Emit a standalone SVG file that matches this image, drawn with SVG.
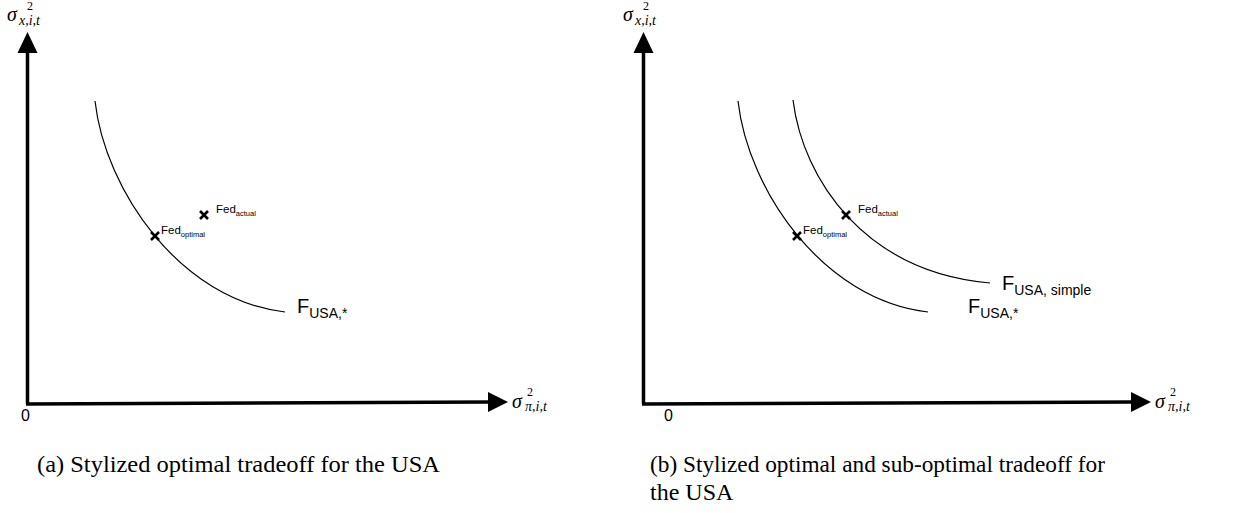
<svg xmlns="http://www.w3.org/2000/svg" width="1234" height="513" viewBox="0 0 1234 513">
<style>
.axis{stroke:#000;stroke-width:3.5;fill:none}
.curve{stroke:#000;stroke-width:1.2;fill:none}
.mark{stroke:#000;stroke-width:2.6}
.math{font-family:"Liberation Serif","DejaVu Serif",serif;font-style:italic;fill:#000}
.sup{font-family:"Liberation Serif","DejaVu Serif",serif;fill:#000;font-size:12px}
.sans{font-family:"Liberation Sans",Arial,sans-serif;fill:#000}
.cap{font-family:"Liberation Serif","DejaVu Serif",serif;font-size:24px;fill:#000}
</style>
<rect width="1234" height="513" fill="#fff"/>
<g id="connectors">
  <path class="axis" d="M27.5,404 L27.5,50"/>
  <polygon points="27.5,32 17.5,53 37.5,53" fill="#000"/>
  <path class="axis" d="M26,404 L490,402"/>
  <polygon points="508,402 488,392 488,412" fill="#000"/>
  <path class="axis" d="M643.5,404 L643.5,50"/>
  <polygon points="643.5,32 633.5,53 653.5,53" fill="#000"/>
  <path class="axis" d="M642,404 L1133,402"/>
  <polygon points="1151,402 1131,392 1131,412" fill="#000"/>
  <path class="curve" d="M95,101 C105,190 180,300 285,312"/>
  <path class="curve" d="M738,101 C748,190 823,300 928,312"/>
  <path class="curve" d="M793,100 C803,180 865,272 990,283"/>
</g>
<g id="left-labels">
  <text class="math" x="7" y="21" font-size="20">σ</text>
  <text class="sup" x="27" y="10">2</text>
  <text class="math" x="19" y="25" font-size="14">x,i,t</text>
  <text class="sans" x="21" y="421" font-size="16">0</text>
  <text class="math" x="512" y="408" font-size="20">σ</text>
  <text class="sup" x="527" y="396">2</text>
  <text class="math" x="525" y="411" font-size="14">π,i,t</text>
</g>
<g id="right-labels">
  <text class="math" x="623" y="21" font-size="20">σ</text>
  <text class="sup" x="643" y="10">2</text>
  <text class="math" x="635" y="25" font-size="14">x,i,t</text>
  <text class="sans" x="664" y="421" font-size="16">0</text>
  <text class="math" x="1155" y="408" font-size="20">σ</text>
  <text class="sup" x="1170" y="396">2</text>
  <text class="math" x="1168" y="411" font-size="14">π,i,t</text>
</g>
<g id="fed-optimal-a">
  <path class="mark" d="M151,232 L159,240 M159,232 L151,240"/>
  <text class="sans" x="161" y="234" font-size="11.5">Fed<tspan font-size="7.5" dy="3">optimal</tspan></text>
</g>
<g id="fed-actual-a">
  <path class="mark" d="M200,211 L208,219 M208,211 L200,219"/>
  <text class="sans" x="216" y="213" font-size="11.5">Fed<tspan font-size="7.5" dy="3">actual</tspan></text>
</g>
<g id="f-usa-a">
  <text class="sans" x="297" y="313" font-size="20">F<tspan font-size="14" dy="5">USA,*</tspan></text>
</g>
<g id="fed-optimal-b">
  <path class="mark" d="M793,232 L801,240 M801,232 L793,240"/>
  <text class="sans" x="803" y="234" font-size="11.5">Fed<tspan font-size="7.5" dy="3">optimal</tspan></text>
</g>
<g id="fed-actual-b">
  <path class="mark" d="M842,211 L850,219 M850,211 L842,219"/>
  <text class="sans" x="858" y="213" font-size="11.5">Fed<tspan font-size="7.5" dy="3">actual</tspan></text>
</g>
<g id="f-usa-simple">
  <text class="sans" x="1002" y="290" font-size="20">F<tspan font-size="14" dy="5">USA, simple</tspan></text>
</g>
<g id="f-usa-b">
  <text class="sans" x="968" y="313" font-size="20">F<tspan font-size="14" dy="5">USA,*</tspan></text>
</g>
<g id="captions">
  <text class="cap" x="37" y="472" textLength="403" lengthAdjust="spacingAndGlyphs">(a) Stylized optimal tradeoff for the USA</text>
  <text class="cap" x="650" y="472" textLength="455" lengthAdjust="spacingAndGlyphs">(b) Stylized optimal and sub-optimal tradeoff for</text>
  <text class="cap" x="650" y="500">the USA</text>
</g>
</svg>
